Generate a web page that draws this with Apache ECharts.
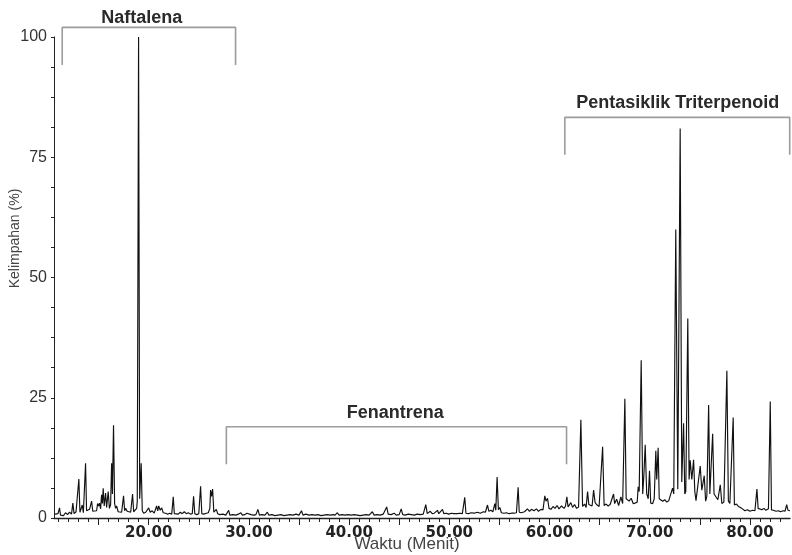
<!DOCTYPE html>
<html>
<head>
<meta charset="utf-8">
<script src="https://cdn.jsdelivr.net/npm/echarts@6/dist/echarts.min.js"></script>
<style>html,body{margin:0;padding:0;background:#fff}#c{width:792px;height:555px}</style>
</head>
<body>
<div id="c"></div>
<script>
// Retention time (minutes) and relative abundance (%)
const time = [
10.65,10.8,10.95,11.1,11.2,11.35,11.5,11.7,11.9,12.1,12.3,12.43,12.55,12.75,12.92,13.03,13.14,13.25,13.37,13.48,
13.6,13.7,13.8,13.95,14.1,14.3,14.42,14.6,14.8,14.9,15.0,15.1,15.2,15.3,15.38,15.46,15.56,15.7,15.8,15.96,
16.08,16.2,16.3,16.38,16.49,16.6,16.7,16.8,16.95,17.1,17.3,17.49,17.6,17.7,17.85,18.0,18.2,18.39,18.5,18.65,
18.8,18.86,18.99,19.1,19.25,19.36,19.5,19.7,20.0,20.15,20.35,20.55,20.79,20.9,21.0,21.15,21.3,21.45,21.7,21.9,
22.1,22.3,22.45,22.56,22.75,22.95,23.15,23.35,23.55,23.75,23.95,24.15,24.35,24.48,24.6,24.8,25.0,25.18,25.3,25.5,
25.75,25.95,26.1,26.18,26.27,26.38,26.5,26.62,26.75,26.88,27.1,27.4,27.7,27.98,28.1,28.4,28.7,28.95,29.2,29.35,
29.6,29.8,29.95,30.2,30.5,30.7,30.9,31.05,31.3,31.6,31.84,31.98,32.3,32.6,32.9,33.2,33.5,33.8,34.1,34.4,
34.7,35.0,35.25,35.4,35.7,36.0,36.3,36.6,36.9,37.2,37.5,37.8,38.1,38.4,38.6,38.83,39.0,39.3,39.6,39.9,
40.2,40.5,40.8,41.1,41.4,41.7,42.0,42.32,42.5,42.8,43.1,43.4,43.75,43.9,44.2,44.5,44.7,45.0,45.2,45.35,
45.6,45.9,46.2,46.5,46.8,47.1,47.4,47.65,47.8,48.1,48.3,48.5,48.82,48.95,49.1,49.32,49.45,49.7,49.95,50.2,
50.45,50.64,50.8,51.05,51.3,51.54,51.66,51.9,52.2,52.5,52.8,53.1,53.4,53.6,53.81,53.95,54.15,54.35,54.54,54.64,
54.77,54.9,55.04,55.2,55.45,55.7,55.95,56.2,56.45,56.7,56.87,56.98,57.2,57.5,57.8,58.0,58.2,58.45,58.7,58.9,
59.15,59.35,59.53,59.65,59.8,59.95,60.15,60.35,60.55,60.75,60.95,61.2,61.45,61.6,61.73,61.85,62.0,62.13,62.3,62.5,
62.7,62.9,63.13,63.3,63.5,63.65,63.8,63.92,64.1,64.25,64.4,64.55,64.75,64.95,65.1,65.3,65.45,65.65,65.85,66.05,
66.2,66.39,66.5,66.7,66.9,67.12,67.3,67.52,67.65,67.79,67.95,68.15,68.35,68.55,68.75,68.85,68.95,69.15,69.3,69.42,
69.55,69.7,69.85,69.98,70.1,70.3,70.45,70.61,70.7,70.84,70.95,71.1,71.3,71.5,71.7,71.9,72.08,72.28,72.4,72.6,
72.8,72.86,73.04,73.2,73.38,73.5,73.6,73.8,73.93,74.04,74.2,74.38,74.5,74.62,74.8,75.04,75.2,75.44,75.58,75.7,
75.88,76.0,76.28,76.42,76.6,76.8,77.04,77.2,77.4,77.55,77.7,77.85,78.0,78.15,78.33,78.45,78.65,78.85,79.05,79.25,
79.5,79.75,80.0,80.25,80.5,80.7,80.82,81.0,81.2,81.4,81.6,81.85,82.03,82.15,82.35,82.6,82.85,83.05,83.3,83.5,
83.67,83.8,84.0
];
const abundance = [
0.8,0.5,0.9,2.1,0.6,1.0,0.5,1.1,0.7,1.2,0.8,3.1,0.9,1.3,1.0,8.1,1.2,1.0,2.7,1.1,
1.3,11.4,1.5,1.2,1.8,3.5,1.4,1.7,1.5,3.0,2.5,3.1,1.9,4.8,3.0,6.2,2.5,5.2,2.2,5.5,
2.0,2.8,11.4,5.0,19.3,3.0,2.0,2.5,1.3,1.6,1.2,4.6,1.5,2.0,1.4,1.8,1.2,5.0,1.3,1.1,
2.0,3.5,100,4.0,11.4,1.5,1.0,1.2,2.1,1.2,1.5,1.0,2.5,1.5,2.5,1.6,2.1,1.1,1.0,0.8,
1.0,0.8,4.4,0.9,1.1,0.8,1.2,0.9,1.3,0.9,1.1,0.8,0.9,4.5,0.9,0.7,0.9,6.6,0.9,0.8,
1.0,1.1,2.0,5.8,4.5,6.0,1.2,1.0,1.8,0.9,0.7,0.8,0.6,1.6,0.6,0.7,0.6,0.8,1.1,0.6,
0.7,1.0,0.6,0.7,0.6,0.7,1.8,0.6,0.7,0.6,1.2,0.6,0.7,0.5,0.6,0.7,0.5,0.6,0.7,0.6,
0.8,0.6,1.5,0.6,0.8,0.6,0.7,0.6,0.7,0.5,0.6,0.7,0.6,0.7,0.6,1.1,0.6,0.7,0.6,0.7,
0.6,0.7,0.6,0.5,0.6,0.7,0.6,1.3,0.6,0.7,0.6,0.8,2.3,0.8,0.7,1.0,0.6,0.7,1.9,0.7,
0.6,0.8,0.7,0.6,0.8,0.7,0.8,2.8,0.9,1.4,0.9,1.0,1.6,0.9,1.0,1.8,0.9,1.0,0.8,1.0,
0.9,1.3,0.9,1.0,0.9,4.3,1.0,0.9,1.1,1.0,1.2,1.0,1.3,1.2,2.7,1.4,1.6,1.3,3.0,1.6,
8.5,1.7,2.2,1.1,1.0,1.1,0.9,1.0,1.0,1.1,6.4,1.2,1.1,1.3,1.9,1.4,1.8,1.5,1.9,1.4,
1.8,1.7,4.6,3.5,4.1,2.0,1.8,2.4,2.0,2.6,1.9,2.5,2.0,2.5,4.4,2.3,2.6,3.2,2.2,2.8,
2.0,2.3,20.4,2.4,2.9,2.2,5.5,2.8,3.0,2.5,5.8,3.2,2.7,2.4,2.6,14.8,2.6,2.9,2.5,2.8,
2.4,5.0,3.0,3.9,2.6,4.4,3.0,24.8,4.0,4.4,3.5,4.1,3.0,3.1,3.3,6.5,5.5,32.8,5.0,9.0,
15.2,5.0,4.0,9.8,3.1,3.0,4.0,14.0,8.0,14.6,4.0,3.8,3.5,3.8,3.3,3.6,3.4,6.2,5.0,60.0,
6.0,6.2,81.0,7.5,19.7,5.0,5.5,41.5,8.0,12.0,8.0,12.1,5.5,3.6,4.0,10.8,5.8,8.8,3.5,4.5,
23.5,5.0,17.5,5.0,4.6,3.8,6.9,3.0,3.3,3.2,30.6,3.5,3.0,3.2,20.9,2.7,2.9,2.4,2.2,1.9,
1.5,1.7,1.4,1.6,1.5,6.0,2.0,1.8,1.7,2.0,1.6,1.9,24.2,1.7,1.6,1.4,1.5,1.3,1.5,1.4,
2.8,1.6,1.5
];

// Axis ticks and labels
const xLabelValues = [20, 30, 40, 50, 60, 70, 80];
const xMinorTicks = [11,12,13,14,15,16,17,18,19,20,21,22,23,24,25,26,27,28,29,30,31,32,33,34,35,36,37,38,39,40,
41,42,43,44,45,46,47,48,49,50,51,52,53,54,55,56,57,58,59,60,61,62,63,64,65,66,67,68,69,70,71,72,73,74,75,76,77,78,79,80,81,82,83];
const xMajorTicks = [15,20,25,30,35,40,45,50,55,60,65,70,75,80];
const yLabelValues = [0, 25, 50, 75, 100];
const yTicks = [0,6.25,12.5,18.75,25,31.25,37.5,43.75,50,56.25,62.5,68.75,75,81.25,87.5,93.75,100];

// Compound-group brackets (data units)
const bracketNames = ['Naftalena', 'Fenantrena', 'Pentasiklik Triterpenoid'];
const bracketStart = [11.37, 27.75, 61.53];
const bracketEnd = [28.67, 61.7, 83.97];
const bracketTop = [102.0, 18.98, 83.3];
const bracketFoot = [94.2, 11.2, 75.5];
const bracketLabelX = [19.3, 44.6, 72.8];
const bracketLabelY = [103.95, 21.8, 86.3];

const chart = echarts.init(document.getElementById('c'), null, {renderer: 'canvas'});
const traceData = time.map((t, i) => [t, abundance[i]]);

const series = [{
  type: 'line', xAxisIndex: 0, yAxisIndex: 0, data: traceData,
  showSymbol: false, symbol: 'none', silent: true, animation: false,
  lineStyle: {color: '#111', width: 1.15}, z: 5
}];
bracketNames.forEach((name, i) => {
  series.push({
    type: 'line', xAxisIndex: 0, yAxisIndex: 0, clip: false, silent: true, animation: false,
    symbol: 'none',
    data: [[bracketStart[i], bracketFoot[i]], [bracketStart[i], bracketTop[i]],
           [bracketEnd[i], bracketTop[i]], [bracketEnd[i], bracketFoot[i]]],
    lineStyle: {color: '#9c9c9c', width: 1.6}, z: 3
  });
  series.push({
    type: 'scatter', xAxisIndex: 0, yAxisIndex: 0, clip: false, silent: true, animation: false,
    symbolSize: 0, itemStyle: {opacity: 1},
    data: [[bracketLabelX[i], bracketLabelY[i]]],
    label: {show: true, position: 'inside', formatter: name,
      fontFamily: 'Liberation Sans, Arial, sans-serif', fontWeight: 'bold', fontSize: 18, color: '#2a2a2a'},
    z: 4
  });
});

chart.setOption({
  animation: false,
  backgroundColor: '#fff',
  grid: {left: 54, right: 2, top: 37, bottom: 37, containLabel: false, outerBoundsMode: 'none'},
  xAxis: [{
    type: 'value', min: 10.55, max: 84.0, position: 'bottom',
    name: 'Waktu (Menit)', nameLocation: 'middle', nameGap: 18, nameMoveOverlap: false,
    nameTextStyle: {fontFamily: 'Liberation Sans, Arial, sans-serif', fontSize: 17, color: '#444', padding: [0, 30, 0, 0]},
    axisLine: {show: true, lineStyle: {color: '#222', width: 1.3}},
    axisTick: {show: true, customValues: xMinorTicks, length: 4, lineStyle: {color: '#222', width: 1}},
    axisLabel: {show: true, customValues: xLabelValues, margin: 8,
      formatter: v => v.toFixed(2),
      fontFamily: 'DejaVu Sans, sans-serif', fontWeight: 'bold', fontSize: 15, color: '#222'},
    splitLine: {show: false}
  }, {
    type: 'value', min: 10.55, max: 84.0, position: 'bottom', gridIndex: 0,
    axisLine: {show: false},
    axisTick: {show: true, customValues: xMajorTicks, length: 7, lineStyle: {color: '#222', width: 1}},
    axisLabel: {show: false},
    splitLine: {show: false}
  }],
  yAxis: {
    type: 'value', min: 0, max: 100,
    name: 'Kelimpahan (%)', nameLocation: 'middle', nameGap: 32, nameMoveOverlap: false,
    nameTextStyle: {fontFamily: 'Liberation Sans, Arial, sans-serif', fontSize: 14, color: '#444', padding: [0, 0, 0, 78]},
    axisLine: {show: true, lineStyle: {color: '#222', width: 1}},
    axisTick: {show: true, customValues: yTicks, length: 3, lineStyle: {color: '#222', width: 1}},
    axisLabel: {show: true, customValues: yLabelValues, margin: 7,
      fontFamily: 'Liberation Sans, Arial, sans-serif', fontSize: 16, color: '#333'},
    splitLine: {show: false}
  },
  series: series
});
</script>
</body>
</html>
